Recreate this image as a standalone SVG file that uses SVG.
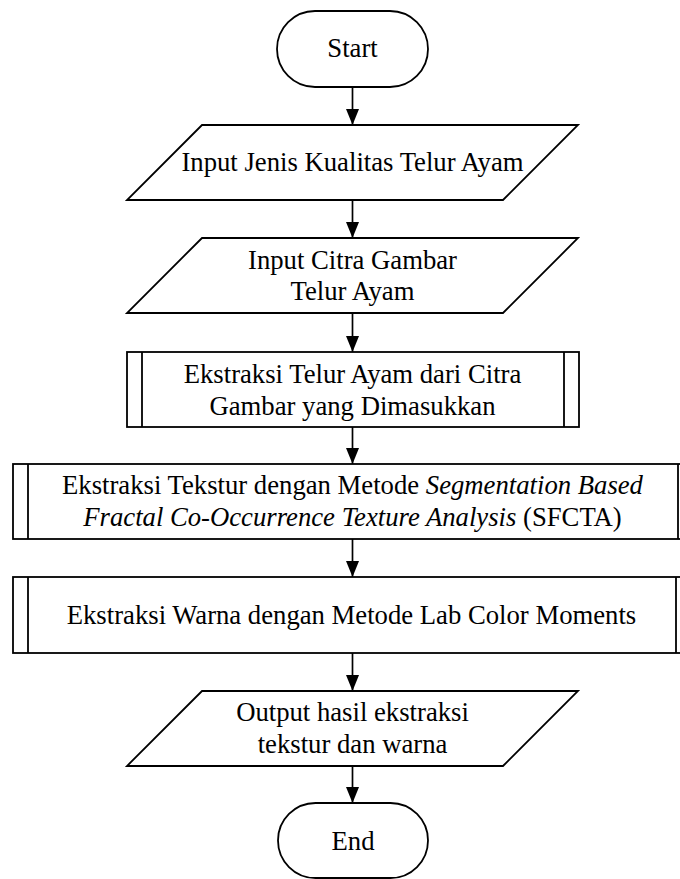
<svg xmlns="http://www.w3.org/2000/svg" width="680" height="879" viewBox="0 0 680 879">
<style>
.s{fill:#fff;stroke:#000;stroke-width:1.8}
.l{fill:none;stroke:#000;stroke-width:1.8}
.c{stroke:#000;stroke-width:1.7;fill:none}
text{font-size:26.7px;fill:#000;text-anchor:middle}
.i{font-style:italic}
</style>
<defs>
<marker id="ah" markerWidth="17" markerHeight="14" refX="16" refY="7" orient="auto" markerUnits="userSpaceOnUse" viewBox="0 0 17 14">
<path d="M0,0.5 L16,7 L0,13.5 Z" fill="#000"/>
</marker>
</defs>
<rect x="0" y="0" width="680" height="879" fill="#fff"/>
<g id="connectors">
<line class="c" x1="352.5" y1="87" x2="352.5" y2="125" marker-end="url(#ah)"/>
<line class="c" x1="352.5" y1="200" x2="352.5" y2="238" marker-end="url(#ah)"/>
<line class="c" x1="352.5" y1="313" x2="352.5" y2="352" marker-end="url(#ah)"/>
<line class="c" x1="352.5" y1="427" x2="352.5" y2="464" marker-end="url(#ah)"/>
<line class="c" x1="352.5" y1="539" x2="352.5" y2="577" marker-end="url(#ah)"/>
<line class="c" x1="352.5" y1="653" x2="352.5" y2="691" marker-end="url(#ah)"/>
<line class="c" x1="352.5" y1="766" x2="352.5" y2="803" marker-end="url(#ah)"/>
</g>
<g font-family="'Liberation Serif', 'Times New Roman', Times, 'DejaVu Serif', serif">
<g id="start">
<rect class="s" x="277" y="11" width="151" height="76" rx="38" ry="38"/>
<text x="352.5" y="57">Start</text>
</g>
<g id="input1">
<polygon class="s" points="202,125 578,125 503,200 127,200"/>
<text x="352.5" y="171">Input Jenis Kualitas Telur Ayam</text>
</g>
<g id="input2">
<polygon class="s" points="202,238 578,238 503,313 127,313"/>
<text x="352.5" y="268.5">Input Citra Gambar</text>
<text x="352.5" y="300">Telur Ayam</text>
</g>
<g id="proc1">
<rect class="s" x="127" y="352" width="452" height="75"/>
<line class="l" x1="142" y1="352" x2="142" y2="427"/>
<line class="l" x1="564" y1="352" x2="564" y2="427"/>
<text x="352.5" y="383">Ekstraksi Telur Ayam dari Citra</text>
<text x="352.5" y="414.5">Gambar yang Dimasukkan</text>
</g>
<g id="proc2">
<rect class="s" x="13" y="464" width="680" height="75"/>
<line class="l" x1="28" y1="464" x2="28" y2="539"/>
<line class="l" x1="678" y1="464" x2="678" y2="539"/>
<text x="352.5" y="494">Ekstraksi Tekstur dengan Metode <tspan class="i">Segmentation Based</tspan></text>
<text x="352.5" y="525.5"><tspan class="i">Fractal Co-Occurrence Texture Analysis</tspan> (SFCTA)</text>
</g>
<g id="proc3">
<rect class="s" x="13" y="577" width="680" height="76"/>
<line class="l" x1="28" y1="577" x2="28" y2="653"/>
<line class="l" x1="676" y1="577" x2="676" y2="653"/>
<text x="351.5" y="623.5">Ekstraksi Warna dengan Metode Lab Color Moments</text>
</g>
<g id="output">
<polygon class="s" points="202,691 578,691 503,766 127,766"/>
<text x="352.5" y="721">Output hasil ekstraksi</text>
<text x="352.5" y="752.5">tekstur dan warna</text>
</g>
<g id="end">
<rect class="s" x="278" y="803" width="150" height="75" rx="37.5" ry="37.5"/>
<text x="353" y="849.5">End</text>
</g>
</g>
</svg>
